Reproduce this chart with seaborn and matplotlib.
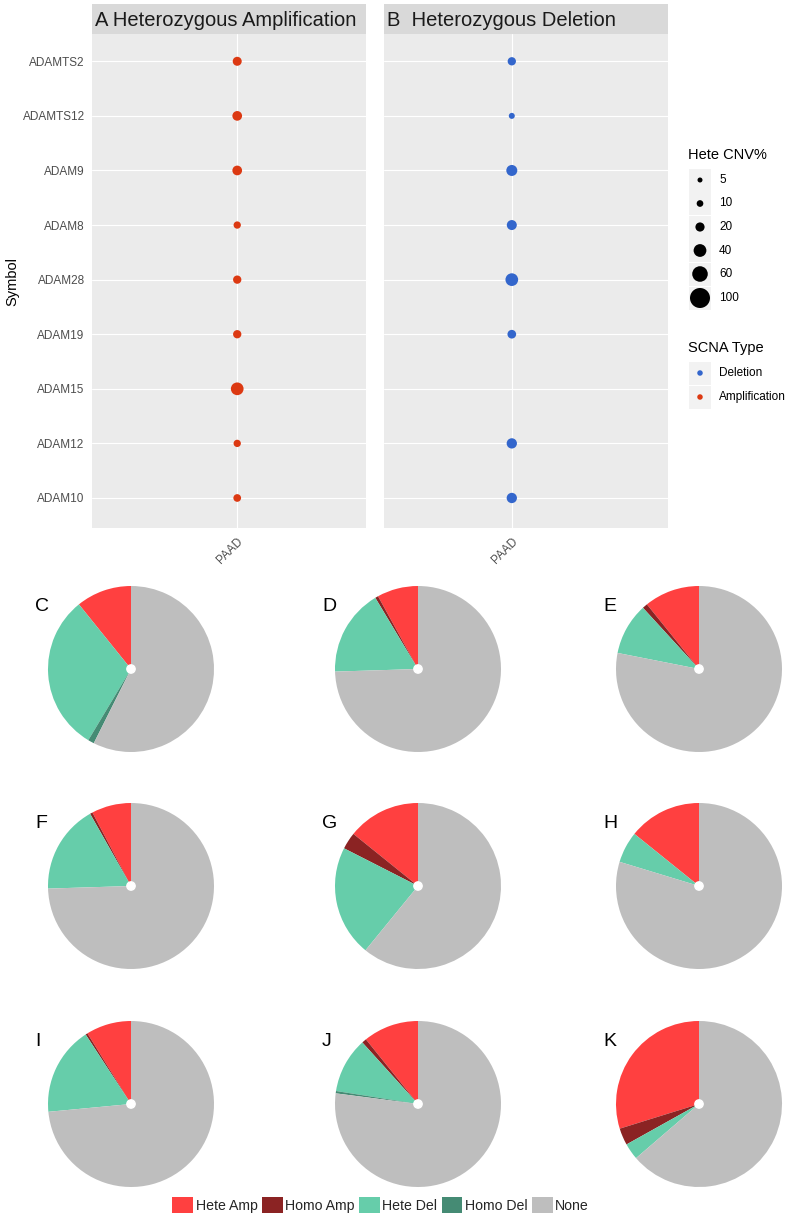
import numpy as np
import pandas as pd
import matplotlib
matplotlib.use("Agg")
import matplotlib.pyplot as plt
from matplotlib.patches import Patch, Rectangle, Circle
import seaborn as sns

# ------------------------------------------------------------------
# data
# ------------------------------------------------------------------
symbols = ['ADAM10', 'ADAM12', 'ADAM15', 'ADAM19', 'ADAM28',
           'ADAM8', 'ADAM9', 'ADAMTS12', 'ADAMTS2']
amp_pct = [13.7, 12.2, 39.5, 16.1, 16.1, 12.2, 22.5, 22.5, 19.2]
del_pct = [25.5, 25.5, np.nan, 17.8, 39.5, 24.0, 29.3, 7.8, 16.1]
cancer = 'PAAD'
size_breaks = [5, 10, 20, 40, 60, 100]

pie_labels = ['C', 'D', 'E', 'F', 'G', 'H', 'I', 'J', 'K']
hete_amp = [10.8, 8.0, 10.8, 7.7, 14.2, 14.2, 8.8, 10.8, 29.8]
homo_amp = [0.0, 0.6, 1.0, 0.5, 3.3, 0.0, 0.4, 0.9, 3.3]
hete_del = [30.6, 16.9, 10.1, 17.3, 21.6, 6.1, 17.3, 10.8, 3.2]
homo_del = [1.2, 0.0, 0.0, 0.0, 0.0, 0.0, 0.0, 0.45, 0.0]
no_cnv = [57.4, 74.5, 78.1, 74.5, 60.9, 79.7, 73.5, 77.05, 63.7]
pie_cats = ['Hete Amp', 'Homo Amp', 'Hete Del', 'Homo Del', 'None']
pie_colors = ['#FF4040', '#8B2323', '#66CDAA', '#458B74', '#BEBEBE']

scna_colors = {'Deletion': '#3366CC', 'Amplification': '#DC3912'}

# ------------------------------------------------------------------
# style
# ------------------------------------------------------------------
sns.set_style("darkgrid", {"axes.facecolor": "#EBEBEB", "grid.color": "white"})
plt.rcParams['font.family'] = ['Liberation Sans', 'DejaVu Sans']

W, H = 790, 1219
fig = plt.figure(figsize=(W / 100, H / 100), dpi=100)


def fbox(x0, y0, x1, y1):
    # pixel box (top-left origin) -> figure fraction rect
    return [x0 / W, 1 - y1 / H, (x1 - x0) / W, (y1 - y0) / H]


# marker area (pt^2) for 5% and 100%
px2pt = 0.72
s_lo, s_hi = (5 * px2pt) ** 2, (20 * px2pt) ** 2

ypos = {s: i for i, s in enumerate(symbols)}
panels = [
    ('A Heterozygous Amplification', amp_pct, 'Amplification', (92, 366), (-0.53, 0.47)),
    ('B  Heterozygous Deletion', del_pct, 'Deletion', (384, 668), (-0.45, 0.55)),
]
for title, vals, kind, (x0, x1), xl in panels:
    df = pd.DataFrame({'Symbol': symbols, 'pct': vals, 'cancer': cancer})
    df = df.dropna()
    df['ypos'] = df['Symbol'].map(ypos)
    df['xpos'] = 0
    ax = fig.add_axes(fbox(x0, 34, x1, 528))
    sns.scatterplot(data=df, x='xpos', y='ypos', size='pct', sizes=(s_lo, s_hi),
                    size_norm=(5, 100), color=scna_colors[kind], linewidth=0,
                    legend=False, ax=ax, zorder=3)
    ax.set_xlim(*xl)
    ax.set_ylim(-0.55, 8.5)
    ax.set_yticks(range(len(symbols)))
    if kind == 'Amplification':
        ax.set_yticklabels(symbols)
    else:
        ax.set_yticklabels([])
        ax.tick_params(axis='y', length=0)
    ax.set_xticks([0])
    ax.set_xticklabels([cancer], rotation=45, ha='right', rotation_mode='anchor')
    ax.set_xlabel('')
    ax.set_ylabel('')
    ax.grid(True, color='white', linewidth=0.8)
    ax.tick_params(axis='both', labelsize=8.5, labelcolor='#4D4D4D', color='#333333',
                   length=2.75, width=0.7, pad=2.5)
    if kind == 'Amplification':
        ax.tick_params(axis='y', length=2.75)
    for sp in ax.spines.values():
        sp.set_visible(False)
    # facet strip
    sax = fig.add_axes(fbox(x0, 4, x1, 34))
    sax.set_facecolor('#D9D9D9')
    sax.set_xticks([])
    sax.set_yticks([])
    sax.grid(False)
    for sp in sax.spines.values():
        sp.set_visible(False)
    sax.text(0.012, 0.45, title, transform=sax.transAxes, ha='left', va='center',
             fontsize=14.5, color='#1A1A1A')

fig.text(12 / W, 1 - 281 / H, 'Symbol', rotation=90, ha='center', va='center',
         fontsize=10.5, color='black')

# ------------------------------------------------------------------
# legends on the right (drawn on a pixel-coordinate axes)
# ------------------------------------------------------------------
lax = fig.add_axes(fbox(680, 140, 790, 420))
rows = [180, 203.5, 227, 250.5, 274, 298]
for y in rows:
    lax.add_patch(Rectangle((689, y - 11.5), 22, 23, color='#F2F2F2', lw=0))
sns.scatterplot(x=[700] * len(rows), y=rows, size=size_breaks, sizes=(s_lo, s_hi),
                size_norm=(5, 100), color='black', linewidth=0, legend=False, ax=lax,
                zorder=3)
for y, v in zip(rows, size_breaks):
    lax.text(719, y, str(v), ha='left', va='center', fontsize=8.5, color='black')
lax.text(688, 155, 'Hete CNV%', ha='left', va='center', fontsize=10.5, color='black')

scna_rows = [373, 397]
scna_names = ['Deletion', 'Amplification']
for y in scna_rows:
    lax.add_patch(Rectangle((689, y - 11.5), 22, 23, color='#F2F2F2', lw=0))
sns.scatterplot(x=[700, 700], y=scna_rows, hue=scna_names, palette=scna_colors,
                s=(5.5 * px2pt) ** 2, linewidth=0, legend=False, ax=lax, zorder=3)
for y, n in zip(scna_rows, scna_names):
    lax.text(719, y, n, ha='left', va='center', fontsize=8.5, color='black')
lax.text(688, 348, 'SCNA Type', ha='left', va='center', fontsize=10.5, color='black')
lax.set_xlim(680, 790)
lax.set_ylim(420, 140)
lax.axis('off')

# ------------------------------------------------------------------
# pie charts C-K
# ------------------------------------------------------------------
centers_x = [131, 418, 699]
centers_y = [669, 886, 1104]
R = 83
for i, lab in enumerate(pie_labels):
    cx = centers_x[i % 3]
    cy = centers_y[i // 3]
    half = R * 1.25
    pax = fig.add_axes(fbox(cx - half, cy - half, cx + half, cy + half))
    vals = [hete_amp[i], homo_amp[i], hete_del[i], homo_del[i], no_cnv[i]]
    pax.pie(vals, colors=pie_colors, startangle=90, counterclock=True,
            wedgeprops={'linewidth': 0})
    pax.add_patch(Circle((0, 0), 0.05, color='white', zorder=5))
    fig.text((cx - 96) / W, 1 - (cy - 62) / H, lab, ha='left', va='center',
             fontsize=14, color='black')

handles = [Patch(facecolor=c, edgecolor='none', label=n) for c, n in zip(pie_colors, pie_cats)]
fig.legend(handles=handles, loc='center', bbox_to_anchor=(0.482, 1 - 1205 / H), ncol=5,
           frameon=False, fontsize=10.2, handlelength=1.45, handleheight=1.45,
           handletextpad=0.2, columnspacing=0.3, borderaxespad=0)

fig.savefig('out.png', dpi=100)
